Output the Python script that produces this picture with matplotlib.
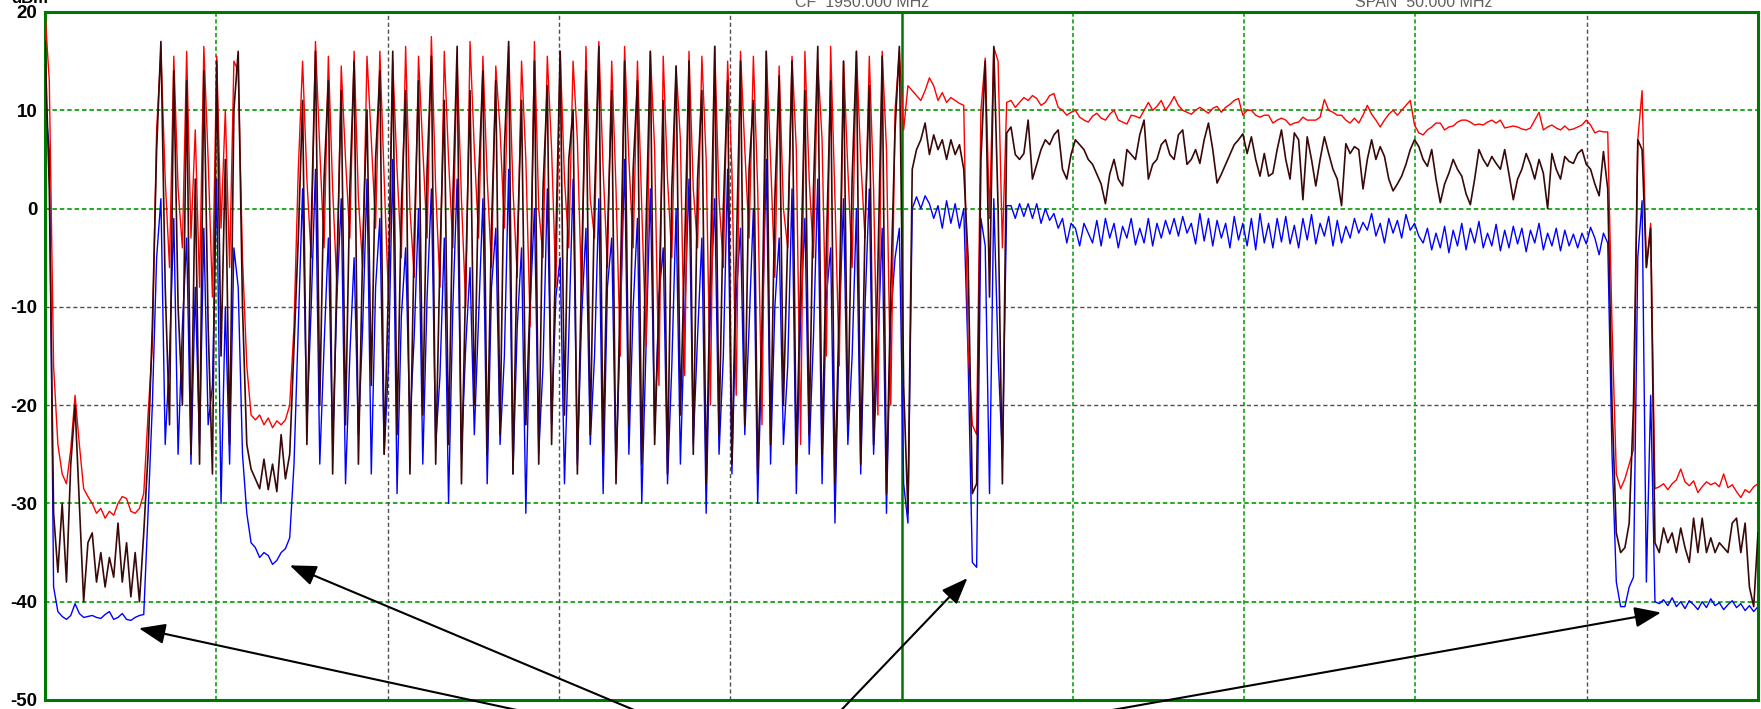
import numpy as np
import matplotlib
matplotlib.use("Agg")
import matplotlib.pyplot as plt

plt.rcParams["font.family"] = ["Liberation Sans", "DejaVu Sans"]
plt.rcParams["axes.unicode_minus"] = False

# trace values in dBm, 400 trace points across 10 divisions
# left edge: start spike, then the three traces settle low
red_a = [20, 13, -16, -24, -27, -28, -24.5, -19, -24, -28.5, -29.3, -30, -31, -30.5, -31.5,
         -30.8, -31.2, -30, -29.3, -29.5, -30.8, -31, -30.5, -29, -21]
dark_a = [17, 2, -31, -37, -30, -38, -26, -20, -30, -40, -34, -33, -38, -35, -38.5,
          -35.5, -37.5, -32, -38, -34, -39.5, -35, -40, -33, -25]
blue_a = [11, 6, -38.5, -41, -41.5, -41.8, -41.4, -40.2, -41.2, -41.6, -41.5, -41.4, -41.6, -41.7, -41.3,
          -41, -41.8, -41.6, -41.2, -41.8, -41.9, -41.6, -41.4, -41.3, -31]

# first burst
red_d1 = [-14, 8, 16, 3, -6, 15.5, 2, -4, 16, -3, 8, -8, 16.5, 5, -9, 15.5, -2, 10, -6, 15, 14, -5]
dark_d1 = [-12, 6, 17, -8, -22, 14, -10, -20, 13, -25, 3, -26, 14, -12, -27, 15, -15, 5, -24, 10, 16, -10]
blue_d1 = [-20, -5, 1, -24, -15, -1, -25, -12, -3, -26, -8, -24, -2, -22, -18, 3, -30, -10, -26, -4, -8, -25]

# short gap between bursts
red_b = [-16, -21, -21.5, -21, -22, -21.3, -22.3, -21.6, -22, -21.5, -20, -12, 4]
dark_b = [-24, -26.5, -27.5, -28.5, -25.5, -28.6, -26, -28.8, -23, -27.5, -25, -14, -3]
blue_b = [-31, -34, -34.5, -35.5, -35, -35.3, -36.2, -35.8, -35, -34.6, -33.5, -26, -12]

# long burst, one tuple per cycle (peak, middle, low)
red_d2 = [(15, 3, -5), (17, 6, -4), (15.5, 2, -8), (14.5, 5, -3), (16, 1, -6), (15.5, 7, -2),
          (16, 3, -9), (15, 4, -5), (16.5, 0, -7), (15.5, 6, -3), (17.5, 2, -8), (16, 5, -4),
          (15, 1, -10), (17, 6, -3), (15.5, 3, -6), (14.5, 8, -2), (16.5, 2, -7), (15, 5, -12),
          (17, 0, -5), (15.5, 6, -8), (16, 3, -4), (15, 7, -9), (16.5, 1, -3), (17, 4, -6),
          (15, 2, -15), (16.5, 5, -4), (15, 0, -14), (16, 6, -18), (15.5, 3, -5), (14.5, 7, -17),
          (16, 2, -4), (15.5, 5, -20), (16.5, 1, -6), (15, 4, -19), (16, 6, -3), (15.5, 2, -22),
          (16, 5, -7), (14.5, 0, -4), (15.5, 6, -24), (16, 3, -5), (15, 7, -15), (16.5, 1, -16),
          (15, 4, -6), (16, 5, -3), (15.5, 2, -21), (16, 6, -20)]
dark_d2 = [(11, -24, -2), (16, -20, 3), (13, -27, -6), (12, -22, 2), (15, -26, -4), (10, -18, 5),
           (14, -25, -8), (16, -23, 0), (12, -27, -3), (13, -21, 4), (15.5, -26, -5), (11, -24, 1),
           (16.5, -28, -7), (12, -20, 3), (14, -25, -2), (13, -23, 6), (17, -27, -4), (11, -22, -9),
           (15, -26, 2), (12.5, -24, -3), (16, -21, 5), (10, -27, -6), (14, -23, 1), (16.5, -25, -3),
           (12, -28, -8), (15, -22, 4), (13, -26, -2), (16, -24, -10), (11, -27, 2), (14.5, -21, -4),
           (15, -25, 3), (12, -28, -6), (16.5, -23, 0), (13, -26, -5), (15, -22, 4), (11, -27, -12),
           (16, -24, 1), (13.5, -20, -3), (15, -26, -7), (12, -23, 2), (16.5, -25, -4), (13, -28, -10),
           (15, -22, 3), (16, -26, -2), (12.5, -24, -6), (15.5, -29, -8)]
blue_d2 = [(2, -22, -10), (4, -26, -14), (-3, -24, -9), (1, -28, -15), (-5, -23, -12), (3, -27, -8),
           (-1, -25, -16), (5, -29, -11), (-4, -22, -13), (0, -26, -9), (2, -24, -17), (-3, -30, -10),
           (3, -25, -14), (-6, -23, -11), (1, -28, -8), (-2, -24, -15), (4, -27, -12), (-4, -31, -10),
           (0, -25, -16), (2, -22, -9), (-5, -28, -13), (3, -26, -11), (-2, -24, -15), (1, -29, -8),
           (-3, -27, -12), (5, -25, -10), (-1, -30, -14), (2, -23, -9), (-4, -28, -16), (0, -26, -11),
           (3, -24, -13), (-3, -31, -10), (1, -25, -15), (4, -27, -9), (-2, -23, -12), (0, -30, -14),
           (5, -26, -10), (-3, -24, -16), (2, -29, -11), (-1, -25, -13), (3, -28, -9), (-4, -32, -12),
           (1, -24, -15), (0, -27, -10), (2, -25, -14), (-2, -31, -11)]

# end of burst at the centre line
red_mid = [10, 16, 8, 12.5]
dark_mid = [8, 16.5, -18, -31]
blue_mid = [-5, -2, -28, -32]

red_c = [12, 11.5, 11, 12, 13.3, 12.5, 11, 11.8, 10.8, 11.3, 11, 10.7, 10.5]
dark_c = [4, 6, 7, 8.7, 5.5, 7.5, 6, 7, 5, 7, 5.5, 6.5, 4]
blue_c = [0, 1.2, 0, 1.3, 0.5, -1, 0.3, -2, 0.8, -1.5, 0.5, -2, 0]

# dip and double spike right of centre
red_s = [-14, -22, -23, 10, 15.3, -1, 16.4, 15, -4, 10.8]
dark_s = [-5, -29, -28, 5, 15, -9, 16.5, 0, -28, 7.7]
blue_s = [-15, -36, -36.5, -1, -3.8, -29, 1, -15, -25.4, 0.3]

# steady part
red_d = [11, 10.3, 10.8, 11.3, 11, 11.5, 11.2, 10.5, 10.8, 11.5,
         11.7, 10.3, 10, 9.5, 9.8, 10, 9.3, 9, 8.8, 9.4,
         9.7, 9.2, 9, 9.6, 10, 9, 8.8, 8.6, 9.5, 9.4,
         9.2, 10, 10.8, 10, 10.4, 11, 10, 10.6, 11.4, 10.5,
         10, 9.8, 9.6, 10, 10.3, 10, 9.7, 10.2, 10.4, 9.8,
         10.3, 10.6, 11, 11.2, 9.5, 10, 10, 9.5, 9.3, 9.5,
         9.5, 8.7, 9, 9.2, 9, 8.5, 8.7, 8.8, 9.3, 9,
         9, 9, 9.3, 11.1, 10, 9.8, 9.5, 9.5, 9, 8.7,
         9.2, 8.7, 9.5, 10.5, 9.6, 9, 8.3, 9, 9.6, 10,
         9.5, 10, 10.5, 11, 8.5, 7.7, 7.5, 8, 8.3, 8.7,
         8.7, 8, 8.3, 8.4, 8.8, 9, 9, 8.8, 8.5, 8.6,
         8.5, 8.8, 9, 8.7, 9, 8.2, 8.3, 8.4, 8.3, 8.1,
         8, 8.2, 9, 9.8, 8, 8.3, 8.5, 8.2, 8, 8.4,
         8, 8.1, 8.3, 8.5, 9, 8.5, 7.7, 7.9, 7.8, 7.8]
dark_d = [8.3, 5.5, 5, 5.6, 9, 3, 4.5, 6, 7, 6.5,
          7.5, 8, 4, 3, 5.5, 7, 6.5, 6, 5, 4.5,
          3.5, 2.5, 0.5, 3.5, 5, 3, 2.3, 6, 5.5, 5,
          7.5, 9, 3, 4.5, 5, 6.5, 7, 5.5, 5, 7.5,
          8, 4.5, 5, 6, 4.6, 7, 8.7, 6, 2.6, 3.5,
          4.5, 5.5, 6.5, 7, 7.6, 5.6, 7.3, 5, 3.3, 5.6,
          3.3, 3.6, 6, 8, 5, 3, 7.7, 7, 0.9, 7.3,
          5, 2.3, 5, 7.3, 5.6, 4, 3, 0.3, 6.6, 5.6,
          6.3, 6, 2, 5, 7, 5, 6.3, 5.3, 3, 1.8,
          2.5, 3.3, 4.5, 6, 7, 6.3, 5, 4.3, 6, 3,
          0.6, 2.5, 3.6, 5, 4, 3.3, 1.5, 0.4, 3, 6,
          5, 4.3, 5.3, 4.6, 4, 6, 3.5, 0.9, 3, 4,
          5.6, 4.5, 3, 5, 3.6, 0, 5.6, 4, 3, 5.3,
          4.8, 4.6, 5.6, 6, 4.5, 4, 2.5, 1.3, 5.8, 2]
blue_d = [0.3, -1, 0.5, -0.8, 0.5, -1, 0.5, -1.5, 0, -1.2,
          -0.5, -2, -1, -3.5, -1.5, -2, -3.8, -1.5, -2.5, -3.5,
          -1.2, -3.8, -1, -3, -1.5, -4, -1.8, -3, -1, -3.7,
          -2, -3.5, -1, -3.8, -1.5, -3, -1.2, -2.6, -1, -2.8,
          -0.8, -2.5, -1.5, -3.6, -0.5, -3.3, -1, -3.8, -1.2, -3,
          -1.5, -4, -0.8, -3.2, -1.5, -3.8, -1, -4.2, -0.5, -3.5,
          -1.5, -4, -1, -3.4, -0.8, -3.6, -1.7, -4, -1, -3.2,
          -0.6, -3.6, -1.5, -2.8, -0.8, -3.8, -1.2, -3.5, -1.8, -3,
          -1, -2.5, -1.4, -2.2, -0.5, -2.8, -1.5, -3.5, -1, -2.5,
          -1.2, -3, -0.6, -2.2, -1.5, -2.8, -3.5, -2, -4.2, -2.5,
          -4, -1.8, -4.5, -2.2, -3.8, -1.5, -4.2, -2, -3.5, -1.3,
          -4, -2.5, -3.8, -1.6, -4.3, -2.2, -4, -1.8, -3.6, -2,
          -4.4, -2.2, -3.5, -1.5, -4.2, -2.5, -3.8, -2, -4.3, -2.2,
          -3.8, -2.6, -4, -2.5, -3.6, -1.9, -3, -4.7, -2.5, -3.5]

# drop and last spike
red_f = [-12, -27, -28.5, -27.5, -26, -24.5, 7, 12, -6, -1.5, -28.5]
dark_f = [-20, -33, -35, -34.5, -32, -20, 7, 6, -6, -2, -34]
blue_f = [-25, -38, -40.5, -40.5, -38.5, -37.5, -5, 0.8, -38, -19, -40]

# right edge
red_e = [-28.3, -28, -28.6, -28, -27.6, -26.5, -27.8, -28.2, -27.7, -28.9, -28.3, -27.8,
         -28.1, -27.9, -28.3, -27, -28.4, -28.1, -28.8, -29.4, -28.6, -28.9, -28.3, -28]
dark_e = [-35, -32.5, -34, -33, -35, -32.5, -34.5, -36, -31.5, -35, -31.5, -35,
          -33.5, -35, -34, -34.5, -35, -32, -31.5, -35, -32, -38.5, -40.5, -33]
blue_e = [-40.2, -39.8, -40.4, -39.6, -40.5, -40, -40.7, -39.9, -40.3, -40.8, -40, -40.6,
          -39.7, -40.4, -40.1, -40.8, -40.3, -39.9, -40.6, -40.2, -40.9, -40.4, -41, -40.5]

y_ticks = [20, 10, 0, -10, -20, -30, -40, -50]
green_h = [10, 0, -30, -40]
grey_h = [-10, -20]
green_v = [1, 6, 7, 8]
grey_v = [2, 3, 4, 9]
centre_v = 5

arrow_heads = [(0.548, -42.7), (1.429, -36.3), (5.385, -37.6), (9.434, -41.1)]
arrow_tails = [(3.28, -53), (3.71, -53), (4.54, -53), (5.59, -53)]


def build(*parts):
    return np.concatenate([np.ravel(np.array(p, dtype=float)) for p in parts])


red = build(red_a, red_d1, red_b, red_d2, red_mid, red_c, red_s, red_d, red_f, red_e)
dark = build(dark_a, dark_d1, dark_b, dark_d2, dark_mid, dark_c, dark_s, dark_d, dark_f, dark_e)
blue = build(blue_a, blue_d1, blue_b, blue_d2, blue_mid, blue_c, blue_s, blue_d, blue_f, blue_e)
if not (len(red) == len(dark) == len(blue)):
    raise ValueError("trace lengths differ: {} {} {}".format(len(red), len(dark), len(blue)))
x = np.linspace(0, 10, len(red))

fig = plt.figure(figsize=(17.61, 7.09), dpi=100)
ax = fig.add_axes([45 / 1761, 9 / 709, 1713 / 1761, 688 / 709])

for v in green_h:
    ax.axhline(v, color="#14a014", lw=1.3, ls=(0, (2.5, 1.6)), zorder=1)
for v in grey_h:
    ax.axhline(v, color="#505050", lw=1.0, ls=(0, (3, 2)), zorder=1)
for v in green_v:
    ax.axvline(v, color="#14a014", lw=1.2, ls=(0, (2.5, 1.6)), zorder=1)
for v in grey_v:
    ax.axvline(v, color="#505050", lw=1.0, ls=(0, (3, 2)), zorder=1)
ax.axvline(centre_v, color="#007800", lw=1.8, zorder=1)

# blue underneath, dark trace on top
ax.plot(x, blue, color="#0000ff", lw=1.0, zorder=2)
ax.plot(x, red, color="#ff0000", lw=1.0, zorder=3)
ax.plot(x, dark, color="#3a0808", lw=1.2, zorder=4)

ax.set_xlim(0, 10)
ax.set_ylim(-50, 20)
ax.set_xticks([])
ax.set_yticks(y_ticks)
ax.set_yticklabels([str(t) for t in y_ticks], fontsize=13.5, fontweight="bold")
ax.tick_params(axis="y", length=0, pad=5.5)
for s in ax.spines.values():
    s.set_color("#007800")
    s.set_linewidth(2.2)

for head, tail in zip(arrow_heads, arrow_tails):
    ax.annotate("", xy=head, xytext=tail, xycoords="data", textcoords="data",
                annotation_clip=False,
                arrowprops=dict(arrowstyle="-|>,head_length=0.9,head_width=0.35",
                                color="black", lw=1.5, mutation_scale=18,
                                shrinkA=0, shrinkB=0))

# header line, cut by the top edge as in the source screenshot
fig.text(11 / 1761, 1 - 3 / 709, "dBm", fontsize=12, fontweight="bold", va="baseline", ha="left")
fig.text(795 / 1761, 1 - 7 / 709, "CF  1950.000 MHz", fontsize=11.5, color="#606060",
         va="baseline", ha="left")
fig.text(1355 / 1761, 1 - 7 / 709, "SPAN  50.000 MHz", fontsize=11.5, color="#606060",
         va="baseline", ha="left")

fig.savefig("out.png", dpi=100)
